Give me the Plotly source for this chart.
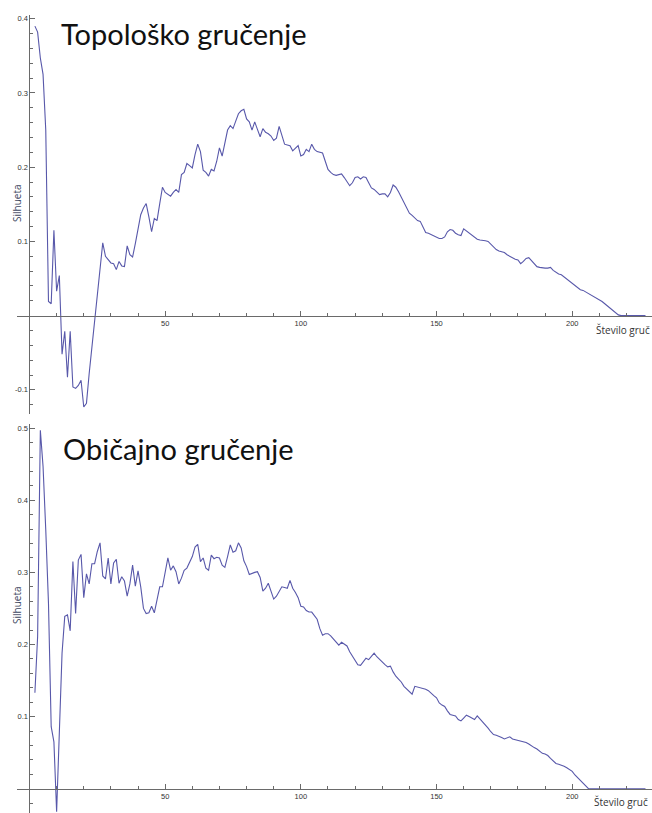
import plotly.graph_objects as go

# Number of clusters (k) evaluated for both clustering methods
k_values = list(range(2, 228))

# Mean silhouette score per k: topological clustering
silhouette_topological = [
    0.390, 0.382, 0.347, 0.325, 0.250, 0.019, 0.016, 0.115, 0.033, 0.054,
    -0.052, -0.021, -0.083, -0.021, -0.096, -0.098, -0.094, -0.087, -0.123, -0.118,
    -0.078, -0.042, -0.001, 0.035, 0.071, 0.098, 0.080, 0.075, 0.071, 0.070,
    0.062, 0.073, 0.067, 0.066, 0.094, 0.082, 0.079, 0.097, 0.115, 0.136,
    0.145, 0.151, 0.133, 0.113, 0.131, 0.128, 0.151, 0.173, 0.166, 0.163,
    0.161, 0.166, 0.170, 0.166, 0.190, 0.193, 0.205, 0.202, 0.199, 0.217,
    0.231, 0.221, 0.196, 0.193, 0.188, 0.197, 0.195, 0.208, 0.226, 0.215,
    0.234, 0.250, 0.256, 0.252, 0.262, 0.272, 0.276, 0.278, 0.265, 0.261,
    0.250, 0.261, 0.251, 0.241, 0.252, 0.247, 0.245, 0.242, 0.236, 0.239,
    0.255, 0.242, 0.231, 0.230, 0.229, 0.222, 0.226, 0.229, 0.215, 0.217,
    0.224, 0.221, 0.231, 0.224, 0.221, 0.220, 0.219, 0.208, 0.197, 0.193,
    0.190, 0.189, 0.190, 0.191, 0.186, 0.180, 0.175, 0.179, 0.186, 0.187,
    0.184, 0.187, 0.186, 0.179, 0.172, 0.170, 0.167, 0.163, 0.164, 0.164,
    0.160, 0.166, 0.176, 0.173, 0.167, 0.160, 0.153, 0.144, 0.138, 0.135,
    0.131, 0.128, 0.127, 0.120, 0.112, 0.111, 0.109, 0.107, 0.105, 0.104,
    0.104, 0.106, 0.113, 0.116, 0.115, 0.111, 0.109, 0.108, 0.117, 0.114,
    0.112, 0.108, 0.105, 0.103, 0.102, 0.102, 0.101, 0.100, 0.096, 0.092,
    0.089, 0.087, 0.086, 0.085, 0.082, 0.080, 0.077, 0.076, 0.075, 0.070,
    0.073, 0.077, 0.078, 0.074, 0.069, 0.066, 0.065, 0.064, 0.064, 0.064,
    0.065, 0.061, 0.058, 0.056, 0.055, 0.052, 0.050, 0.047, 0.044, 0.040,
    0.037, 0.035, 0.034, 0.032, 0.030, 0.028, 0.025, 0.023, 0.021, 0.019,
    0.016, 0.013, 0.010, 0.007, 0.004, 0.001, 0.0, 0.0, 0.0, 0.0,
    0.0, 0.0, 0.0, 0.0, 0.0, 0.0,
]

# Mean silhouette score per k: ordinary clustering
silhouette_ordinary = [
    0.133, 0.211, 0.497, 0.447, 0.359, 0.257, 0.086, 0.065, -0.032, 0.075,
    0.188, 0.239, 0.241, 0.219, 0.315, 0.243, 0.317, 0.325, 0.265, 0.298,
    0.284, 0.312, 0.312, 0.329, 0.341, 0.295, 0.291, 0.320, 0.284, 0.313,
    0.318, 0.285, 0.294, 0.288, 0.267, 0.284, 0.310, 0.281, 0.302, 0.280,
    0.250, 0.243, 0.244, 0.253, 0.244, 0.262, 0.280, 0.280, 0.299, 0.320,
    0.303, 0.309, 0.301, 0.284, 0.292, 0.303, 0.306, 0.315, 0.322, 0.335,
    0.339, 0.315, 0.320, 0.306, 0.303, 0.324, 0.319, 0.321, 0.320, 0.310,
    0.307, 0.322, 0.338, 0.328, 0.330, 0.341, 0.334, 0.316, 0.308, 0.297,
    0.299, 0.300, 0.301, 0.293, 0.274, 0.278, 0.285, 0.273, 0.263, 0.267,
    0.274, 0.280, 0.279, 0.278, 0.289, 0.278, 0.272, 0.265, 0.253, 0.252,
    0.247, 0.245, 0.245, 0.240, 0.235, 0.222, 0.213, 0.215, 0.215, 0.212,
    0.208, 0.204, 0.199, 0.203, 0.201, 0.198, 0.190, 0.184, 0.178, 0.172,
    0.171, 0.176, 0.181, 0.179, 0.183, 0.188, 0.183, 0.179, 0.175, 0.172,
    0.169, 0.170, 0.162, 0.156, 0.152, 0.148, 0.142, 0.138, 0.134, 0.131,
    0.142, 0.141, 0.141, 0.140, 0.138, 0.136, 0.132, 0.129, 0.126, 0.119,
    0.116, 0.114, 0.108, 0.103, 0.102, 0.101, 0.096, 0.094, 0.098, 0.102,
    0.100, 0.098, 0.096, 0.101, 0.097, 0.092, 0.088, 0.084, 0.079, 0.075,
    0.074, 0.073, 0.071, 0.069, 0.070, 0.072, 0.069, 0.068, 0.067, 0.067,
    0.066, 0.064, 0.062, 0.059, 0.057, 0.055, 0.052, 0.049, 0.048, 0.046,
    0.042, 0.038, 0.035, 0.034, 0.033, 0.031, 0.029, 0.026, 0.024, 0.019,
    0.015, 0.011, 0.008, 0.004, 0.000, 0.0, 0.0, 0.0, 0.0, 0.0,
    0.0, 0.0, 0.0, 0.0, 0.0, 0.0, 0.0, 0.0, 0.0, 0.0,
    0.0, 0.0, 0.0, 0.0, 0.0, 0.0,
]

panel_titles = ["Topološko gručenje", "Običajno gručenje"]
y_title = "Silhueta"
x_title = "Število gruč"

x_major = [50, 100, 150, 200]
x_minor = [10, 20, 30, 40, 60, 70, 80, 90, 110, 120, 130, 140,
           160, 170, 180, 190, 210, 220]
top_y_major = [-0.1, 0.1, 0.2, 0.3, 0.4]
bottom_y_major = [0.1, 0.2, 0.3, 0.4, 0.5]

# ---- layout geometry -------------------------------------------------------
W, H = 652, 813
LINE_COLOR = "#5858aa"
AXIS_COLOR = "#6a6a6a"
TICK_FONT = dict(family="Liberation Sans", size=7.5, color="#333333")

x_range = [-4.6, 229.4]
x_domain = [17 / W, 1.0]
top_range = [-0.1325, 0.405]
top_domain = [1 - 414 / H, 1 - 15 / H]
bot_range = [-0.0337, 0.5058]
bot_domain = [0.0, 1 - 424 / H]


def zero_pos(rng, dom):
    """Paper coordinate where value 0 falls, so the axes cross at the origin."""
    return dom[0] + (0 - rng[0]) / (rng[1] - rng[0]) * (dom[1] - dom[0])


def minor_y(rng, majors):
    vals = []
    i = int(rng[0] / 0.02) - 1
    while i * 0.02 <= rng[1] + 1e-9:
        v = round(i * 0.02, 2)
        if rng[0] <= v <= rng[1] and v != 0 and all(abs(v - m) > 1e-6 for m in majors):
            vals.append(v)
        i += 1
    return vals


fig = go.Figure()
fig.add_trace(go.Scatter(x=k_values, y=silhouette_topological, mode="lines",
                         line=dict(color=LINE_COLOR, width=1.1),
                         xaxis="x", yaxis="y", showlegend=False))
fig.add_trace(go.Scatter(x=k_values, y=silhouette_ordinary, mode="lines",
                         line=dict(color=LINE_COLOR, width=1.1),
                         xaxis="x2", yaxis="y2", showlegend=False))

y_zero_x = zero_pos(x_range, x_domain)


def x_axis(rng_y, dom_y):
    return dict(
        range=x_range, domain=x_domain, anchor="free",
        position=zero_pos(rng_y, dom_y),
        showline=True, linecolor=AXIS_COLOR, linewidth=1,
        showgrid=False, zeroline=False,
        tickmode="array", tickvals=x_major, ticktext=[str(v) for v in x_major],
        ticks="inside", ticklen=5, tickcolor=AXIS_COLOR, tickwidth=1,
        tickfont=TICK_FONT,
        minor=dict(tickmode="array", tickvals=x_minor, ticks="inside",
                   ticklen=3, tickcolor=AXIS_COLOR, tickwidth=1, showgrid=False),
    )


def y_axis(rng, dom, majors):
    return dict(
        range=rng, domain=dom, anchor="free", position=y_zero_x,
        showline=True, linecolor=AXIS_COLOR, linewidth=1,
        showgrid=False, zeroline=False,
        tickmode="array", tickvals=majors,
        ticktext=[f"{v:.1f}" for v in majors],
        ticks="inside", ticklen=5, tickcolor=AXIS_COLOR, tickwidth=1,
        tickfont=TICK_FONT,
        minor=dict(tickmode="array", tickvals=minor_y(rng, majors), ticks="inside",
                   ticklen=3, tickcolor=AXIS_COLOR, tickwidth=1, showgrid=False),
    )


fig.update_layout(
    width=W, height=H,
    margin=dict(l=0, r=0, t=0, b=0),
    paper_bgcolor="white", plot_bgcolor="white",
    xaxis=x_axis(top_range, top_domain),
    yaxis=y_axis(top_range, top_domain, top_y_major),
    xaxis2=x_axis(bot_range, bot_domain),
    yaxis2=y_axis(bot_range, bot_domain, bottom_y_major),
)

title_font = dict(family="Lato", size=29, color="#111111")
label_font = dict(family="Open Sans", size=10, color="#3d4660")
x_label_font = dict(family="Open Sans", size=10, color="#333333")
ann = [
    dict(text=panel_titles[0], x=59 / W, y=1 - 33 / H, xanchor="left", yanchor="middle",
         font=title_font),
    dict(text=panel_titles[1], x=61 / W, y=1 - 448 / H, xanchor="left", yanchor="middle",
         font=title_font),
    dict(text=y_title, x=17 / W, y=1 - 203 / H, textangle=-90,
         xanchor="center", yanchor="middle", font=label_font),
    dict(text=y_title, x=17 / W, y=1 - 605 / H, textangle=-90,
         xanchor="center", yanchor="middle", font=label_font),
    dict(text=x_title, x=1.0, y=1 - 330 / H, xanchor="right", yanchor="middle",
         font=x_label_font),
    dict(text=x_title, x=592 / W, y=1 - 802 / H, xanchor="left", yanchor="middle",
         font=x_label_font),
]
for a in ann:
    a.update(xref="paper", yref="paper", showarrow=False)
fig.update_layout(annotations=ann)

fig.write_html("out.html")
